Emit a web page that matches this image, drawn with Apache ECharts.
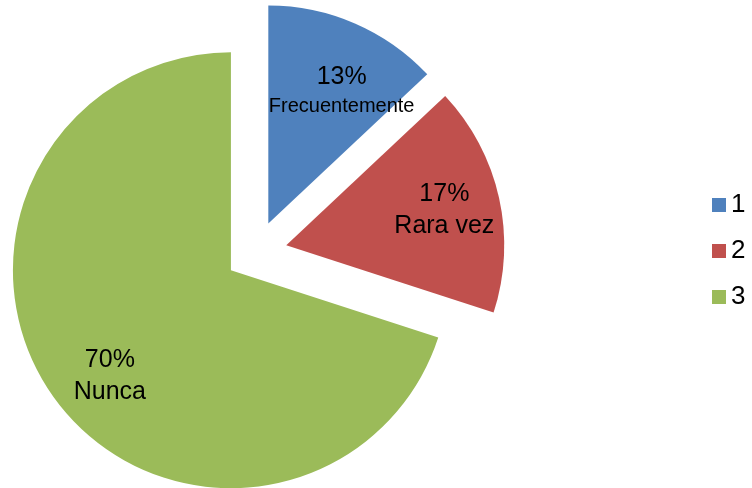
<!DOCTYPE html>
<html>
<head>
<meta charset="utf-8">
<script src="https://cdn.jsdelivr.net/npm/echarts@6/dist/echarts.min.js"></script>
<style>
  html, body { margin: 0; padding: 0; background: #fff; }
  #pie { width: 752px; height: 488px; }
</style>
</head>
<body>
<div id="pie"></div>
<script>
var legendNames = ['1', '2', '3'];
var sliceLabels = ['Frecuentemente', 'Rara vez', 'Nunca'];
var values = [13, 17, 70];
var colors = ['#4F81BD', '#C0504D', '#9BBB59'];

var chartDom = document.getElementById('pie');
var myChart = echarts.init(chartDom);

var total = values.reduce(function (a, b) { return a + b; }, 0);
var pieData = [];
for (let i = 0; i < values.length; i++) {
  pieData.push({
    name: legendNames[i],
    value: values[i],
    selected: true,
    itemStyle: { color: colors[i] }
  });
}

// excel puts the inside labels further out than echarts does
var labelNudge = [[9, 16], [0, 0], [10, 11]];
function labelShift (idx) {
  var before = 0;
  for (let i = 0; i < idx; i++) before += values[i];
  var mid = (before + values[idx] / 2) / total * Math.PI * 2;
  var extra = 50;
  return {
    dx: extra * Math.sin(mid) + labelNudge[idx][0],
    dy: -extra * Math.cos(mid) + labelNudge[idx][1]
  };
}

const option = {
  animation: false,
  legend: {
    orient: 'vertical',
    left: 712,
    top: 192,
    padding: 0,
    icon: 'rect',
    itemWidth: 14,
    itemHeight: 14,
    itemGap: 20,
    selectedMode: false,
    textStyle: {
      fontFamily: 'Liberation Sans',
      fontSize: 26,
      color: '#000'
    },
    data: legendNames
  },
  series: [
    {
      type: 'pie',
      center: [256, 252],
      radius: 218,
      startAngle: 90,
      clockwise: true,
      selectedMode: 'multiple',
      selectedOffset: 31,
      silent: true,
      label: {
        show: true,
        position: 'inside',
        color: '#000',
        fontFamily: 'Liberation Sans',
        formatter: function (params) {
          var pct = Math.round(params.value / total * 100) + '%';
          var tag = params.dataIndex === 0 ? 's' : 'n';
          return '{p|' + pct + '}\n{' + tag + '|' + sliceLabels[params.dataIndex] + '}';
        },
        rich: {
          p: { fontSize: 25, fontFamily: 'Liberation Sans', color: '#000', lineHeight: 32 },
          n: { fontSize: 25, fontFamily: 'Liberation Sans', color: '#000', lineHeight: 32 },
          s: { fontSize: 20, fontFamily: 'Liberation Sans', color: '#000', lineHeight: 28 }
        }
      },
      labelLayout: function (params) {
        return labelShift(params.dataIndex);
      },
      labelLine: { show: false },
      data: pieData
    }
  ]
};

myChart.setOption(option);
</script>
</body>
</html>
